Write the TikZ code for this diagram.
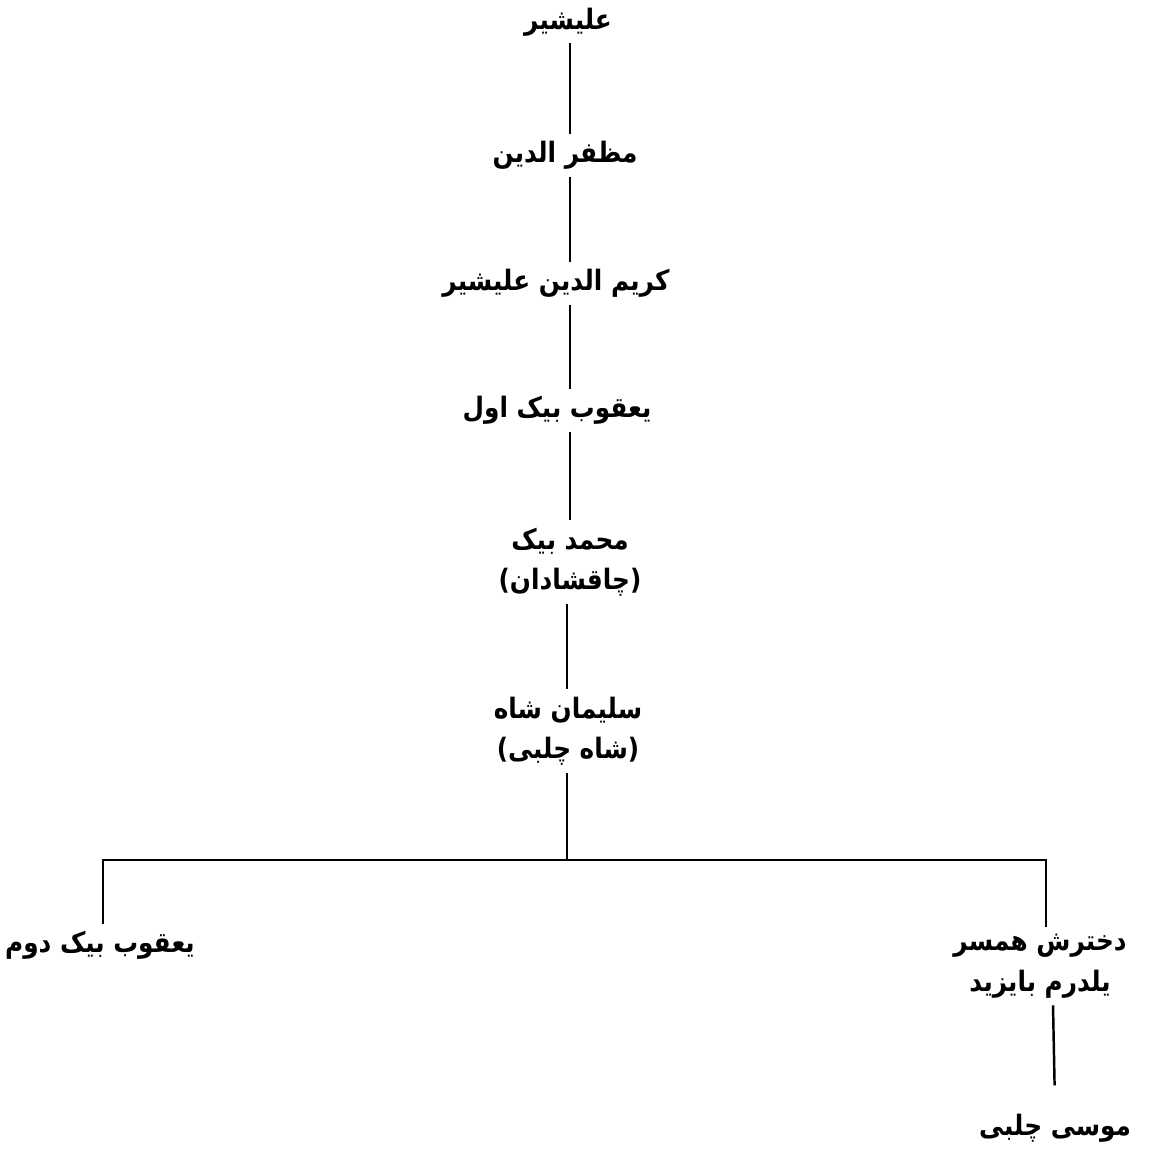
\documentclass[tikz,border=0pt]{standalone}
\usepackage{fontspec}
\newfontfamily\arabicfont[Script=Arabic,FakeStretch=0.88]{DejaVu Sans}
\TeXXeTstate=1
\begin{document}
\begin{tikzpicture}[x=0.02cm,y=-0.02cm,
  person/.style={font=\arabicfont\bfseries\fontsize{16}{23}\selectfont, align=center, inner sep=4pt},
  link/.style={line width=1.4pt}]
\useasboundingbox (0,0) rectangle (1168,1154);
\coordinate (trunk) at (570,0);
\node[person] (a) at (568,22) {\beginR علیشیر\endR};
\node[person] (b) at (565,155) {\beginR مظفر الدین\endR};
\node[person] (c) at (556,283) {\beginR کریم الدین علیشیر\endR};
\node[person] (d) at (557,410) {\beginR یعقوب بیک اول\endR};
\node[person] (e) at (570,562) {\beginR محمد بیک\endR\\\beginR (چاقشادان)\endR};
\node[person] (f) at (568,731) {\beginR سلیمان شاه\endR\\\beginR (شاه چلبی)\endR};
\node[person] (g) at (100,945) {\beginR یعقوب بیک دوم\endR};
\node[person] (h) at (1040,966) {\beginR دخترش همسر\endR\\\beginR یلدرم بایزید\endR};
\node[person] (i) at (1055,1128) {\beginR موسی چلبی\endR};
\coordinate (fork) at (567,860);
\coordinate (fl) at (103,860);
\coordinate (fr) at (1046,860);
\draw[link] (a.south -| trunk) -- (b.north -| trunk);
\draw[link] (b.south -| trunk) -- (c.north -| trunk);
\draw[link] (c.south -| trunk) -- (d.north -| trunk);
\draw[link] (d.south -| trunk) -- (e.north -| trunk);
\draw[link] (e.south -| fork) -- (f.north -| fork);
\draw[link] (f.south -| fork) -- (fork);
\draw[link] (fl |- g.north) -- (fl) -- (fr) -- (fr |- h.north);
\draw[link, shorten >=12pt] ([xshift=13*0.02cm]h.south) -- (i.north);
\end{tikzpicture}
\end{document}
